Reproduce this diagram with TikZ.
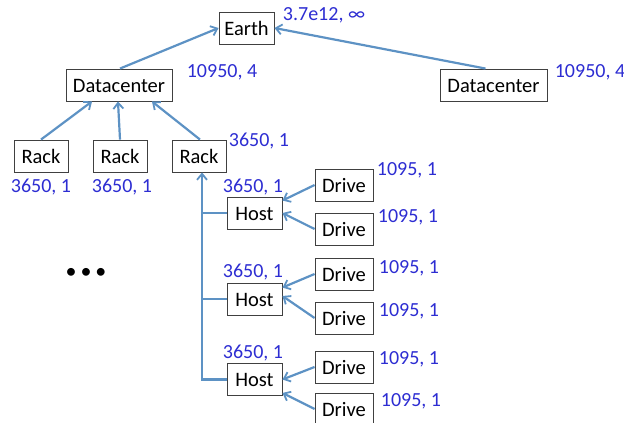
\documentclass[tikz,border=0pt]{standalone}
\usepackage{fontspec}
\setmainfont{Carlito}
\usetikzlibrary{arrows.meta}
\definecolor{linkblue}{RGB}{93,146,196}
\definecolor{numblue}{RGB}{45,45,210}
\tikzset{
  box/.style={draw=black!75, line width=0.9pt, inner sep=0pt, minimum height=32,
    font=\fontsize{20.5}{23}\selectfont, text height=14, text depth=0},
  num/.style={text=numblue, inner sep=0pt, font=\fontsize{20}{23}\selectfont,
    text height=13.5, text depth=0},
  link/.style={draw=linkblue, line width=2.2pt, -{Straight Barb[length=6pt,width=10pt,line width=1.8pt]}},
  bus/.style={draw=linkblue, line width=2.2pt, line join=miter}
}
\begin{document}
\begin{tikzpicture}[x=1pt,y=-1pt]
\useasboundingbox (0,0) rectangle (624,423);

% boxes
\node[box, minimum width=55] (earth) at (246.5,28) {Earth};
\node[box, minimum width=106] (dcl) at (119,85) {Datacenter};
\node[box, minimum width=107] (dcr) at (493.5,85) {Datacenter};
\node[box, minimum width=54] (rack1) at (41,156) {Rack};
\node[box, minimum width=54] (rack2) at (120,156) {Rack};
\node[box, minimum width=54] (rack3) at (199,156) {Rack};
\node[box, minimum width=55] (host1) at (254.5,213) {Host};
\node[box, minimum width=55] (host2) at (254.5,299) {Host};
\node[box, minimum width=55] (host3) at (254.5,379.5) {Host};
\node[box, minimum width=58] (drive1) at (344,185) {Drive};
\node[box, minimum width=58] (drive2) at (344,229) {Drive};
\node[box, minimum width=58] (drive3) at (344,274) {Drive};
\node[box, minimum width=58] (drive4) at (344,318) {Drive};
\node[box, minimum width=58] (drive5) at (344,367) {Drive};
\node[box, minimum width=58] (drive6) at (344,409) {Drive};

% numbers
\node[num] (nearth) at (324,14) {3.7e12, ∞};
\node[num] (ndcl) at (222,71) {10950, 4};
\node[num] (ndcr) at (590,71) {10950, 4};
\node[num] (nrack1) at (41,186) {3650, 1};
\node[num] (nrack2) at (122,186) {3650, 1};
\node[num] (nrack3) at (259,140) {3650, 1};
\node[num] (nhost1) at (253,186) {3650, 1};
\node[num] (nhost2) at (253,271) {3650, 1};
\node[num] (nhost3) at (253,352) {3650, 1};
\node[num] (ndrive1) at (407,169) {1095, 1};
\node[num] (ndrive2) at (408,216) {1095, 1};
\node[num] (ndrive3) at (409,267) {1095, 1};
\node[num] (ndrive4) at (409,310) {1095, 1};
\node[num] (ndrive5) at (409,358) {1095, 1};
\node[num] (ndrive6) at (411,400) {1095, 1};

% ellipsis
\node[inner sep=0pt, font=\fontsize{22}{22}\selectfont] (dots) at (86,273) {\textbullet\hspace{4pt}\textbullet\hspace{4pt}\textbullet};

% links
\draw[link] ([xshift=1pt]dcl.north) -- (earth.west);
\draw[link] ([xshift=-8pt]dcr.north) -- (earth.east);
\draw[link] (rack1.north) -- ([xshift=-27pt]dcl.south);
\draw[link] (rack2.north) -- ([xshift=-1pt]dcl.south);
\draw[link] ([xshift=1pt]rack3.north) -- ([xshift=33pt]dcl.south);

% bus from hosts up to the third rack
\coordinate (b1) at (202,213);
\coordinate (b2) at (202,299);
\coordinate (b3) at (202,379.5);
\draw[bus] (b1) -- (host1.west);
\draw[bus] (b2) -- (host2.west);
\draw[bus] (host3.west) -- (b3) -- (b1);
\draw[link] (b1) -- ([xshift=3pt]rack3.south);

% drives to hosts
\draw[link] (drive1.west) -- ([yshift=-4pt]host1.north east);
\draw[link] (drive2.west) -- (host1.east);
\draw[link] (drive3.west) -- ([yshift=-5pt]host2.north east);
\draw[link] (drive4.west) -- ([yshift=3pt]host2.east);
\draw[link] (drive5.west) -- (host3.east);
\draw[link] (drive6.west) -- ([yshift=3pt]host3.south east);
\end{tikzpicture}
\end{document}
